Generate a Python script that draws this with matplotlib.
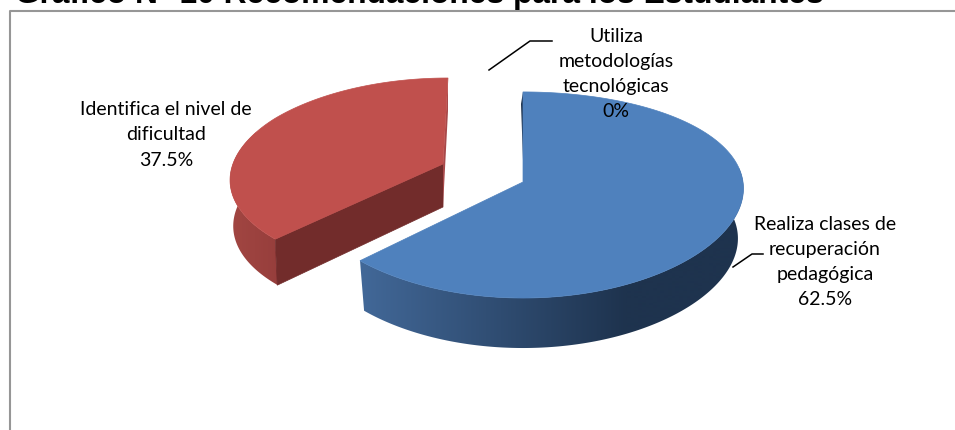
"""Exploded 3D-look pie: recommendations for students."""
import numpy as np
import matplotlib

matplotlib.use("Agg")
import matplotlib.pyplot as plt
from matplotlib.patches import Polygon

plt.rcParams["font.family"] = ["Lato", "DejaVu Sans"]

TITLE = "Gráfico N° 10 Recomendaciones para los Estudiantes"
labels = ["Realiza clases de\nrecuperación\npedagógica\n62.5%",
          "Identifica el nivel de\ndificultad\n37.5%",
          "Utiliza\nmetodologías\ntecnológicas\n0%"]
values = [62.5, 37.5, 0.0]

W, H = 955, 430

# projection of the pie disc, in pixels
RX, RY = 220.0, 101.4
K = 0.126       # perspective strength


def project(apex, theta, scale=1.0, xpow=0.5):
    """theta clockwise from 12 o'clock, degrees."""
    th = np.radians(theta)
    u, v = np.sin(th), -np.cos(th)
    d = 1 - K * v
    return apex[0] + scale * RX * u / d ** xpow, apex[1] + scale * RY * v / d


def gradient_patch(ax, pts, c0, c1, x0, x1, zorder):
    """Polygon filled with a left-to-right colour ramp, flat outside x0..x1."""
    xs = np.arange(W)
    ramp = np.clip((xs - x0) / (x1 - x0), 0, 1)[None, :, None]
    img = (1 - ramp) * np.array(c0)[None, None, :] + ramp * np.array(c1)[None, None, :]
    poly = Polygon(pts, fc="none", ec="none", transform=ax.transData)
    ax.add_patch(poly)
    im = ax.imshow(img, extent=(0, W, H, 0), aspect="auto", interpolation="bilinear",
                   zorder=zorder)
    im.set_clip_path(poly)
    ax.set_xlim(0, W)
    ax.set_ylim(H, 0)


def wall_outline(apex, t0, t1, depth, shrink, scale, xpow):
    ths = np.linspace(t0, t1, 200)
    tx, ty = project(apex, ths, scale, xpow)
    bx, by = project(apex, ths, scale, xpow)
    bx = apex[0] + (bx - apex[0]) * shrink
    by = by + depth
    return list(zip(tx, ty)) + list(zip(bx[::-1], by[::-1]))


fig = plt.figure(figsize=(W / 100, H / 100), dpi=100)
ax = fig.add_axes([0, 0, 1, 1])
ax.set_xlim(0, W)
ax.set_ylim(H, 0)
ax.axis("off")

# chart frame, cut by the image on the right and at the bottom
ax.plot([9.5, 9.5, W + 5], [H + 5, 10.5, 10.5], color="#969696", lw=1.5, zorder=1)
ax.text(15, 3.4, TITLE, fontsize=22.9, fontweight="bold",
        family="Liberation Sans", ha="left", va="baseline", color="black")

angles = np.cumsum([0] + [v * 3.6 for v in values])

# blue slice
blue_apex = (523.0, 182.0)
b0, b1 = angles[0], angles[1]
gradient_patch(ax, wall_outline(blue_apex, 82, b1, 50, 0.975, 1.0, 0.5),
               (66 / 255, 104 / 255, 152 / 255), (30 / 255, 51 / 255, 78 / 255),
               360, 625, 2)
sx, sy = project(blue_apex, b0)
ax.add_patch(Polygon([(sx, sy), blue_apex, (blue_apex[0] + 1, blue_apex[1] + 6),
                      (sx - 2, sy + 12)], fc="#1f344f", ec="none", zorder=3))
ths = np.linspace(b0, b1, 200)
x, y = project(blue_apex, ths)
ax.add_patch(Polygon([blue_apex] + list(zip(x, y)), fc="#4f81bd", ec="#4f81bd",
                     lw=0.5, zorder=4))

# red slice, pulled out of the pie
red_apex = (443.0, 164.0)
r0, r1 = angles[1], angles[2]
RS, RP = 0.955, 1.3
ex, ey = project(red_apex, r0, RS, RP)
gradient_patch(ax, wall_outline(red_apex, r0, 290, 46, 0.985, RS, RP),
               (162 / 255, 70 / 255, 66 / 255), (150 / 255, 62 / 255, 60 / 255),
               228, 280, 2)
ax.add_patch(Polygon([red_apex, (ex, ey), (ex + 2, ey + 46),
                      (red_apex[0], red_apex[1] + 43)], fc="#722c2b", ec="#722c2b",
                     lw=0.5, zorder=3))
px, py = project(red_apex, r1, RS, RP)
ax.add_patch(Polygon([(px + 5, py), red_apex, (red_apex[0], red_apex[1] + 43),
                      (px + 5, py + 33)], fc="#a8494a", ec="none", zorder=3))
ths = np.linspace(r0, r1, 200)
rx_, ry_ = project(red_apex, ths, RS, RP)
rx_ = rx_ + 5 * np.clip((ths - 300) / 60, 0, 1)
ax.add_patch(Polygon([red_apex] + list(zip(rx_, ry_)), fc="#c0504d", ec="#c0504d",
                     lw=0.5, zorder=4))

# labels and leader lines
for lab, lx, ly in zip(labels, [825, 166, 616], [262, 135, 74]):
    ax.text(lx, ly, lab, fontsize=14, ha="center", va="center",
            linespacing=1.58, zorder=6)
ax.plot([489, 530, 552], [70, 41, 41], color="black", lw=1.1, zorder=5)
ax.plot([733, 752, 763], [267, 254, 254], color="black", lw=1.1, zorder=5)

fig.savefig("out.png", dpi=100)
